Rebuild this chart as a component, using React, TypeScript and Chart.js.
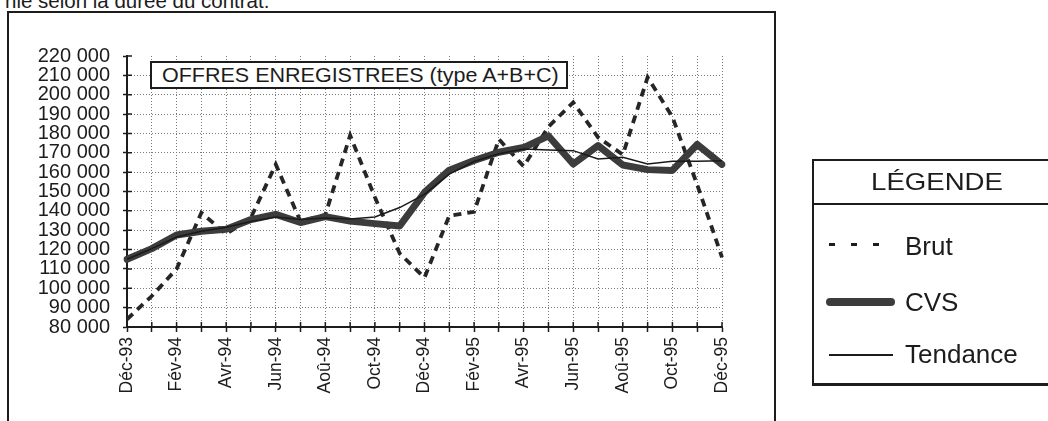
import React, { useEffect, useRef } from 'react';
import { Chart, registerables } from 'chart.js';

Chart.register(...registerables);

const FONT = '"Liberation Sans", Arial, Helvetica, sans-serif';

const months = [
  'Déc-93', 'Jan-94', 'Fév-94', 'Mar-94', 'Avr-94', 'Mai-94', 'Jun-94', 'Jul-94', 'Aoû-94',
  'Sep-94', 'Oct-94', 'Nov-94', 'Déc-94', 'Jan-95', 'Fév-95', 'Mar-95', 'Avr-95', 'Mai-95',
  'Jun-95', 'Jul-95', 'Aoû-95', 'Sep-95', 'Oct-95', 'Nov-95', 'Déc-95',
];

const brut = [
  84000, 96000, 110000, 139000, 128000, 136500, 164000, 134500, 138000,
  179000, 147000, 118000, 105500, 137500, 139500, 177000, 163000, 183500,
  196000, 178000, 169000, 209000, 188500, 153500, 116000,
];

const cvs = [
  115000, 120500, 127500, 129500, 130500, 135500, 138200, 134000, 137000,
  134700, 133400, 132200, 149500, 161000, 166000, 170300, 172700, 178700,
  164200, 173700, 163700, 161300, 160900, 174300, 164000,
];

const tendance = [
  115000, 120500, 126500, 129500, 131500, 134500, 136800, 135500, 136300,
  135800, 136800, 141700, 148500, 159000, 165500, 169500, 172000, 171500,
  171100, 166800, 167700, 164200, 165600, 165600, 165900,
];

const yMin = 80000;
const yMax = 220000;
const yStep = 10000;

const seriesNames = ['Brut', 'CVS', 'Tendance'];
const chartTitle = 'OFFRES ENREGISTREES (type A+B+C)';
const legendTitle = 'LÉGENDE';
const pageText = 'nie selon la durée du contrat.';

function fmt(v: number): string {
  return String(Math.round(v)).replace(/\B(?=(\d{3})+(?!\d))/g, ' ');
}

const INK = '#1c1c1c';

export default function App() {
  const ref = useRef<HTMLCanvasElement>(null);

  useEffect(() => {
    const crossTicks = {
      id: 'crossTicks',
      beforeDatasetsDraw(chart: any) {
        const { ctx, chartArea, scales } = chart;
        const x = scales.x;
        const y = scales.y;
        ctx.save();
        ctx.strokeStyle = INK;
        ctx.lineWidth = 1.5;
        ctx.beginPath();
        for (let i = 0; i < x.ticks.length; i++) {
          const px = x.getPixelForTick(i);
          ctx.moveTo(px, chartArea.bottom);
          ctx.lineTo(px, chartArea.bottom - 5);
        }
        for (let i = 0; i < y.ticks.length; i++) {
          const py = y.getPixelForTick(i);
          ctx.moveTo(chartArea.left, py);
          ctx.lineTo(chartArea.left + 5, py);
        }
        ctx.stroke();
        ctx.restore();
      },
    };

    const chart = new Chart(ref.current as HTMLCanvasElement, {
      type: 'line',
      data: {
        labels: months,
        datasets: [
          {
            label: seriesNames[0],
            data: brut,
            borderColor: '#262626',
            borderWidth: 3.8,
            borderDash: [8, 6],
            pointRadius: 0,
            tension: 0,
            order: 3,
          },
          {
            label: seriesNames[1],
            data: cvs,
            borderColor: '#3c3c3c',
            borderWidth: 7,
            pointRadius: 0,
            tension: 0,
            borderJoinStyle: 'round',
            borderCapStyle: 'round',
            order: 2,
          },
          {
            label: seriesNames[2],
            data: tendance,
            borderColor: '#1a1a1a',
            borderWidth: 1.5,
            pointRadius: 0,
            tension: 0,
            order: 1,
          },
        ],
      },
      options: {
        responsive: false,
        animation: false,
        devicePixelRatio: 1,
        layout: { padding: { top: 56, left: 0, right: 326, bottom: 0 } },
        plugins: {
          legend: { display: false },
          tooltip: { enabled: false },
          title: { display: false },
        },
        scales: {
          x: {
            type: 'category',
            offset: false,
            grid: {
              color: '#7a7a7a',
              lineWidth: 1,
              tickLength: 5,
              tickColor: INK,
              tickWidth: 1.5,
              offset: false,
            },
            border: { display: true, color: INK, width: 2, dash: [1, 2] },
            ticks: {
              autoSkip: false,
              maxRotation: 90,
              minRotation: 90,
              padding: 5,
              color: INK,
              font: { family: FONT, size: 17.5 },
              callback: (_v: any, i: number) => (i % 2 === 0 ? months[i] : ''),
            },
            afterFit: (s: any) => {
              s.height = 94;
            },
          },
          y: {
            min: yMin,
            max: yMax,
            ticks: {
              stepSize: yStep,
              autoSkip: false,
              maxTicksLimit: 40,
              padding: 13,
              color: INK,
              font: { family: FONT, size: 20, lineHeight: 0.8 },
              callback: (v: any) => fmt(Number(v)),
            },
            grid: {
              color: (c: any) => (c.tick && c.tick.value === yMax ? 'rgba(0,0,0,0)' : '#7a7a7a'),
              lineWidth: 1,
              tickLength: 4,
              tickColor: INK,
              tickWidth: 1.5,
            },
            border: { display: true, color: INK, width: 2, dash: [1, 2] },
            afterFit: (s: any) => {
              s.width = 127;
            },
          },
        },
      },
      plugins: [crossTicks],
    } as any);

    return () => chart.destroy();
  }, []);

  const legendRow = (top: number) => ({
    position: 'absolute' as const,
    left: 91,
    top,
    fontSize: 26,
    lineHeight: '30px',
    color: INK,
    whiteSpace: 'nowrap' as const,
  });

  return (
    <div
      style={{
        position: 'fixed',
        left: 0,
        top: 0,
        width: 1048,
        height: 421,
        overflow: 'hidden',
        background: '#ffffff',
        fontFamily: FONT,
      }}
    >
      <div
        style={{
          position: 'absolute',
          left: 5,
          top: -11,
          fontSize: 20.5,
          lineHeight: '24px',
          color: INK,
          whiteSpace: 'nowrap',
        }}
      >
        {pageText}
      </div>
      <div
        style={{
          position: 'absolute',
          left: 7,
          top: 11,
          width: 769,
          height: 440,
          boxSizing: 'border-box',
          border: `2px solid ${INK}`,
          borderBottom: 'none',
        }}
      />
      <canvas ref={ref} width={1048} height={421} style={{ position: 'absolute', left: 0, top: 0 }} />
      <div
        style={{
          position: 'absolute',
          left: 150,
          top: 61,
          width: 418,
          height: 28,
          boxSizing: 'border-box',
          border: `2px solid ${INK}`,
          background: '#ffffff',
          overflow: 'hidden',
        }}
      >
        <div
          style={{
            position: 'absolute',
            left: 10,
            top: 0,
            fontSize: 20,
            lineHeight: '24px',
            color: INK,
            whiteSpace: 'nowrap',
            transform: 'scaleX(1.075)',
            transformOrigin: 'left center',
          }}
        >
          {chartTitle}
        </div>
      </div>
      <div
        style={{
          position: 'absolute',
          left: 812,
          top: 159,
          width: 250,
          height: 227,
          boxSizing: 'border-box',
          border: `2px solid ${INK}`,
          borderBottom: `3px solid ${INK}`,
          background: '#ffffff',
        }}
      >
        <div
          style={{
            position: 'absolute',
            left: 0,
            top: 0,
            width: 246,
            height: 44,
            borderBottom: `2px solid ${INK}`,
            boxSizing: 'border-box',
          }}
        >
          <div
            style={{
              position: 'absolute',
              left: 0,
              width: 246,
              top: 7,
              textAlign: 'center',
              fontSize: 24,
              lineHeight: '28px',
              color: INK,
              transform: 'scaleX(1.15)',
              transformOrigin: 'center center',
            }}
          >
            {legendTitle}
          </div>
        </div>
        {[0, 1, 2].map((k) => (
          <div
            key={'d' + k}
            style={{
              position: 'absolute',
              left: 15 + k * 22,
              top: 82,
              width: 6,
              height: 2.5,
              background: INK,
            }}
          />
        ))}
        <div style={legendRow(70)}>{seriesNames[0]}</div>
        <div
          style={{
            position: 'absolute',
            left: 12,
            top: 137,
            width: 69,
            height: 8,
            borderRadius: 4,
            background: '#3c3c3c',
          }}
        />
        <div style={legendRow(126)}>{seriesNames[1]}</div>
        <div
          style={{
            position: 'absolute',
            left: 15,
            top: 193,
            width: 64,
            height: 1.6,
            background: INK,
          }}
        />
        <div style={legendRow(178)}>{seriesNames[2]}</div>
      </div>
    </div>
  );
}
